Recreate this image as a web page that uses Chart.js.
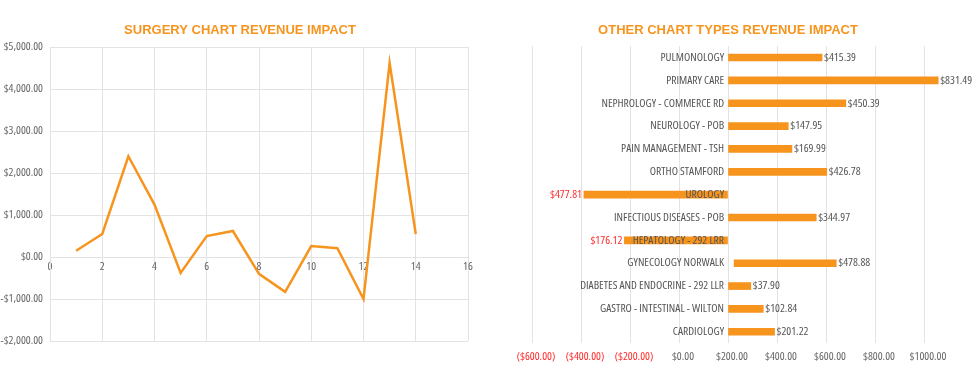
<!DOCTYPE html>
<html><head><meta charset="utf-8">
<script src="https://cdn.jsdelivr.net/npm/chart.js@4.4.1/dist/chart.umd.min.js"></script>
<style>
html,body{margin:0;padding:0;background:#fff;}
#wrap{position:relative;width:974px;height:387px;overflow:hidden;}
#c1box{position:absolute;left:0;top:0;width:480px;height:387px;}
#c2box{position:absolute;left:480px;top:0;width:494px;height:387px;}
</style></head><body>
<div id="wrap"><div id="c1box"><canvas id="c1"></canvas></div><div id="c2box"><canvas id="c2"></canvas></div></div>
<script>
// ---- Left chart data ----
const surgeryX = [1, 2, 3, 4, 5, 6, 7, 8, 9, 10, 11, 12, 13, 14];
const surgeryRevenue = [150, 550, 2400, 1250, -380, 500, 620, -400, -830, 260, 210, -1000, 4620, 550];

// ---- Right chart data ----
const otherCategories = ['PULMONOLOGY', 'PRIMARY CARE', 'NEPHROLOGY - COMMERCE RD', 'NEUROLOGY - POB',
  'PAIN MANAGEMENT - TSH', 'ORTHO STAMFORD', 'UROLOGY', 'INFECTIOUS DISEASES - POB', 'HEPATOLOGY - 292 LRR',
  'GYNECOLOGY NORWALK', 'DIABETES AND ENDOCRINE - 292 LLR', 'GASTRO - INTESTINAL - WILTON', 'CARDIOLOGY'];
const otherBarStart = [0, 0, 0, 0, 0, 0, 0, 0, 0, 25, 0, 0, 0];
const otherBarEnd = [384, 858, 481, 246, 261, 403, -588, 360, -423, 442, 93, 144, 190];
const otherValues = [415.39, 831.49, 450.39, 147.95, 169.99, 426.78, -477.81, 344.97, -176.12, 478.88, 37.90, 102.84, 201.22];
const otherXTickLabels = ['($600.00)', '($400.00)', '($200.00)', '$0.00', '$200.00', '$400.00', '$600.00', '$800.00', '$1000.00'];

const ORANGE = 'rgb(247,148,30)';
const GRID = '#e3e3e3';
const TICK = '#666666';
const LABEL = '#555555';
const RED = '#ff2a2a';
const NARROW_FAMILY = "'Open Sans', sans-serif";
const NARROW = { family: NARROW_FAMILY, size: 11.5, weight: 'condensed' };
const TITLE_FONT = { family: "'Liberation Sans', Arial, sans-serif", size: 13, weight: 'bold' };

function money(v) {
  const s = '$' + Math.abs(v).toLocaleString('en-US', { minimumFractionDigits: 2, maximumFractionDigits: 2 });
  return v < 0 ? '-' + s : s;
}

new Chart(document.getElementById('c1'), {
  type: 'line',
  data: {
    datasets: [{
      data: surgeryX.map((x, i) => ({ x: x, y: surgeryRevenue[i] })),
      borderColor: ORANGE,
      borderWidth: 2.5,
      pointRadius: 0,
      tension: 0,
      fill: false
    }]
  },
  options: {
    responsive: true,
    maintainAspectRatio: false,
    animation: false,
    layout: { padding: { left: 0, right: 0, top: 0, bottom: 46 } },
    plugins: {
      legend: { display: false },
      tooltip: { enabled: false },
      title: {
        display: true, text: 'SURGERY CHART REVENUE IMPACT', color: ORANGE, font: TITLE_FONT,
        padding: { top: 23, bottom: 8.5 }
      }
    },
    scales: {
      x: {
        type: 'linear', min: 0, max: 16, position: { y: 0 },
        ticks: { stepSize: 2, color: TICK, font: NARROW, padding: 3, maxRotation: 0 },
        grid: { color: GRID, drawTicks: false },
        border: { color: GRID }
      },
      y: {
        min: -2000, max: 5000,
        ticks: { stepSize: 1000, color: TICK, font: NARROW, padding: 7, callback: v => money(v) },
        grid: { color: GRID, drawTicks: false },
        border: { color: GRID },
        afterFit: s => { s.width = 50; }
      },
      ySpacer: {
        type: 'linear', position: 'right', display: true,
        grid: { display: false }, border: { display: false }, ticks: { display: false },
        afterFit: s => { s.width = 12; }
      }
    }
  }
});

const valueLabelPlugin = {
  id: 'valueLabels',
  afterDatasetsDraw(chart) {
    const ctx = chart.ctx;
    const meta = chart.getDatasetMeta(0);
    ctx.save();
    ctx.font = NARROW.weight + ' ' + NARROW.size + 'px ' + NARROW_FAMILY;
    ctx.textBaseline = 'middle';
    meta.data.forEach((bar, i) => {
      const v = otherValues[i];
      const txt = '$' + Math.abs(v).toFixed(2);
      if (v < 0) {
        ctx.fillStyle = RED; ctx.textAlign = 'right';
        ctx.fillText(txt, Math.min(bar.x, bar.base) - 2, bar.y);
      } else {
        ctx.fillStyle = LABEL; ctx.textAlign = 'left';
        ctx.fillText(txt, Math.max(bar.x, bar.base) + 2, bar.y);
      }
    });
    ctx.restore();
  }
};

new Chart(document.getElementById('c2'), {
  type: 'bar',
  data: {
    labels: otherCategories,
    datasets: [{
      data: otherBarStart.map((s, i) => [s, otherBarEnd[i]]),
      backgroundColor: ORANGE,
      borderWidth: 0,
      barThickness: 7,
      clip: false
    }]
  },
  plugins: [valueLabelPlugin],
  options: {
    indexAxis: 'y',
    responsive: true,
    maintainAspectRatio: false,
    animation: false,
    layout: { padding: { left: 52, right: 50, top: 0, bottom: 16 } },
    plugins: {
      legend: { display: false },
      tooltip: { enabled: false },
      title: {
        display: true, text: 'OTHER CHART TYPES REVENUE IMPACT', color: ORANGE, font: TITLE_FONT,
        padding: { top: 22.5, bottom: 8 }
      }
    },
    scales: {
      x: {
        min: -800, max: 800,
        ticks: {
          stepSize: 200, padding: 7, maxRotation: 0, autoSkip: false, labelOffset: 4,
          font: NARROW,
          color: c => (c.index < 3 ? RED : TICK),
          callback: (v, i) => otherXTickLabels[i]
        },
        grid: { color: GRID, drawTicks: false },
        border: { display: false }
      },
      y: {
        position: { x: -16 },
        ticks: { color: LABEL, font: NARROW, autoSkip: false, z: 1 },
        grid: { display: false },
        border: { display: false }
      }
    }
  }
});
</script>
</body></html>
